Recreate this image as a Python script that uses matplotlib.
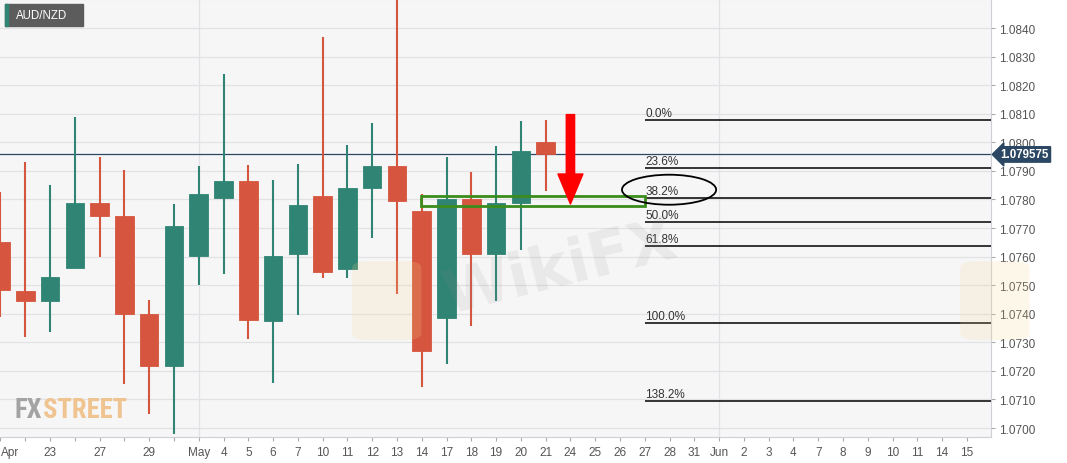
import numpy as np
import matplotlib
matplotlib.use("Agg")
import matplotlib.pyplot as plt
from matplotlib import font_manager
from matplotlib.patches import Rectangle, Ellipse, FancyBboxPatch

plt.rcParams['font.family'] = ['Liberation Sans', 'DejaVu Sans']

# trading days shown on the x axis ('' = tick without label)
day_labels = ['Apr', '', '23', '', '27', '', '29', '', 'May', '4', '5', '6', '7', '10',
              '11', '12', '13', '14', '17', '18', '19', '20', '21', '24', '25', '26', '27',
              '28', '31', 'Jun', '2', '3', '4', '7', '8', '9', '10', '11', '14', '15']

# daily AUD/NZD candles (Apr 21 .. May 21)
opens = [1.07652, 1.07480, 1.07445, 1.07561, 1.07788, 1.07743, 1.07398, 1.07218,
         1.07603, 1.07804, 1.07866, 1.07376, 1.07610, 1.07812, 1.07555, 1.07840,
         1.07918, 1.07761, 1.07386, 1.07802, 1.07609, 1.07788, 1.08002]
highs = [1.07827, 1.07931, 1.07851, 1.08089, 1.07949, 1.07903, 1.07448, 1.07784,
         1.07918, 1.08239, 1.07922, 1.07868, 1.07924, 1.08367, 1.07991, 1.08068,
         1.08560, 1.07819, 1.07949, 1.07896, 1.07988, 1.08073, 1.08078]
lows = [1.07390, 1.07320, 1.07337, 1.07561, 1.07600, 1.07154, 1.07049, 1.06979,
        1.07501, 1.07539, 1.07312, 1.07158, 1.07397, 1.07526, 1.07524, 1.07666,
        1.07468, 1.07145, 1.07224, 1.07358, 1.07446, 1.07624, 1.07831]
closes = [1.07483, 1.07445, 1.07527, 1.07788, 1.07743, 1.07398, 1.07218, 1.07708,
          1.07819, 1.07866, 1.07379, 1.07603, 1.07781, 1.07547, 1.07839, 1.07918,
          1.07793, 1.07271, 1.07802, 1.07609, 1.07788, 1.07968, 1.07959]

last_price = 1.079575

fib_labels = ['0.0%', '23.6%', '38.2%', '50.0%', '61.8%', '100.0%', '138.2%']
fib_levels = [1.08077, 1.07909, 1.07804, 1.07720, 1.07636, 1.07368, 1.07093]
fib_start = 26  # May 27

zone_start, zone_end = 17, 26          # green support box
zone_low, zone_high = 1.07778, 1.07813
arrow_day, arrow_top, arrow_tip = 23, 1.08097, 1.07784
circle_x, circle_y = 26.98, 1.07834

yticks = [1.0700, 1.0710, 1.0720, 1.0730, 1.0740, 1.0750, 1.0760, 1.0770,
          1.0780, 1.0790, 1.0800, 1.0810, 1.0820, 1.0830, 1.0840]

GREEN = '#2f8474'
RED = '#d6553f'

fig = plt.figure(figsize=(10.67, 4.64), dpi=100)
ax = fig.add_axes([0.0, 0.056, 0.9285, 0.944])
ax.set_facecolor('#f6f6f7')

x = np.arange(len(opens))
o = np.array(opens)
c = np.array(closes)
cols = [GREEN if cc >= oo else RED for oo, cc in zip(o, c)]

ax.vlines(x, lows, highs, colors=cols, lw=1.5, zorder=3)
ax.bar(x, np.abs(c - o), bottom=np.minimum(o, c), width=0.75, color=cols,
       edgecolor=cols, lw=0.6, zorder=4)

# last price line
ax.axhline(last_price, color='#2c4763', lw=0.9, zorder=2)

# fibonacci levels
xmax = 39.96
for lab, lev in zip(fib_labels, fib_levels):
    ax.hlines(lev, fib_start, xmax, colors='black', lw=1.1, zorder=5)
    ax.text(fib_start + 0.02, lev + 0.00004, lab, fontsize=8.5, color='#333333',
            va='bottom', ha='left', zorder=6)

# green zone
ax.add_patch(Rectangle((zone_start - 0.03, zone_low), zone_end - zone_start + 0.03,
                       zone_high - zone_low, fill=False, edgecolor='#3a8c1c', lw=2.0,
                       zorder=7))

# circle around 38.2%
ax.add_patch(Ellipse((circle_x, circle_y), 3.8, 0.00105, fill=False,
                     edgecolor='black', lw=1.3, zorder=7))

# red arrow
ax.annotate('', xy=(arrow_day, arrow_tip), xytext=(arrow_day, arrow_top),
            arrowprops=dict(arrowstyle='simple,head_width=0.9,head_length=1.08,tail_width=0.3',
                            color='#ff0000', mutation_scale=20, shrinkA=0, shrinkB=0),
            zorder=8)

ax.set_xlim(-0.02, xmax)
ax.set_ylim(1.069685, 1.085015)

ax.set_yticks(yticks)
ax.set_yticklabels([f'{v:.4f}' for v in yticks])
ax.yaxis.tick_right()
ax.set_xticks(np.arange(len(day_labels)))
ax.set_xticklabels(day_labels)
ax.get_xticklabels()[0].set_horizontalalignment('left')
ax.tick_params(axis='both', colors='#aaaaaa', labelcolor='#555555', labelsize=8.5,
               length=3, width=0.8)
ax.tick_params(axis='y', pad=3)

ax.grid(axis='y', color='#e2e2e6', lw=0.9, zorder=0)
for m in (8, 29):
    ax.axvline(m, color='#e2e2e6', lw=0.9, zorder=0)
ax.set_axisbelow(True)
ax.spines['left'].set_visible(False)
ax.spines['top'].set_color('#e0e0e4')
ax.spines['right'].set_color('#cfd0d6')
ax.spines['bottom'].set_color('#cfd0d6')

# last price tag
ax.annotate(f'{last_price:.6f}', xy=(1.0, last_price), xycoords=('axes fraction', 'data'),
            xytext=(7, 0), textcoords='offset points', fontsize=8.3, color='white',
            fontweight='bold', va='center', ha='left', annotation_clip=False,
            bbox=dict(boxstyle='larrow,pad=0.15', fc='#2c4763', ec='#2c4763'))

# symbol box
fig.add_artist(Rectangle((5 / 1067, 1 - 27 / 464), 78 / 1067, 22 / 464,
                         transform=fig.transFigure, color='#5c5c5c'))
fig.add_artist(Rectangle((5 / 1067, 1 - 27 / 464), 3 / 1067, 22 / 464,
                         transform=fig.transFigure, color=GREEN))
fig.text(16 / 1067, 1 - 16 / 464, 'AUD/NZD', color='white', fontsize=8.3,
         va='center', ha='left')

# watermark
fig.text(0.525, 0.42, 'WikiFX', fontsize=44, fontweight='bold', color='#8a8a8a',
         alpha=0.12, rotation=14, ha='center', va='center', family=['DejaVu Sans'])
for lx in (0.335, 0.905):
    fig.add_artist(FancyBboxPatch((lx, 0.27), 0.055, 0.16,
                                  boxstyle='round,pad=0.005,rounding_size=0.015',
                                  transform=fig.transFigure, fc='#f3d58a', ec='none',
                                  alpha=0.18))

# FXSTREET logo, narrow font if one is installed
names = {f.name for f in font_manager.fontManager.ttflist}
logo_fam = 'DejaVu Sans'
for cand in ('Liberation Sans Narrow', 'DejaVu Sans Condensed', 'Roboto Condensed',
             'Open Sans Condensed'):
    if cand in names:
        logo_fam = cand
        break
size = 25
renderer = fig.canvas.get_renderer()
t1 = fig.text(15 / 1067, 1 - 418 / 464, 'FX', fontsize=size, fontweight='bold',
              color='#a3a3a3', family=logo_fam, va='baseline', ha='left')
t2 = fig.text(0, 1 - 418 / 464, 'STREET', fontsize=size, fontweight='bold',
              color='#f0c490', family=logo_fam, va='baseline', ha='left')
w_total = t1.get_window_extent(renderer).width + t2.get_window_extent(renderer).width
if w_total > 112:
    size = size * 112 / w_total
    t1.set_fontsize(size)
    t2.set_fontsize(size)
t2.set_x((15 + t1.get_window_extent(renderer).width) / 1067)

fig.savefig('out.png', dpi=100)
